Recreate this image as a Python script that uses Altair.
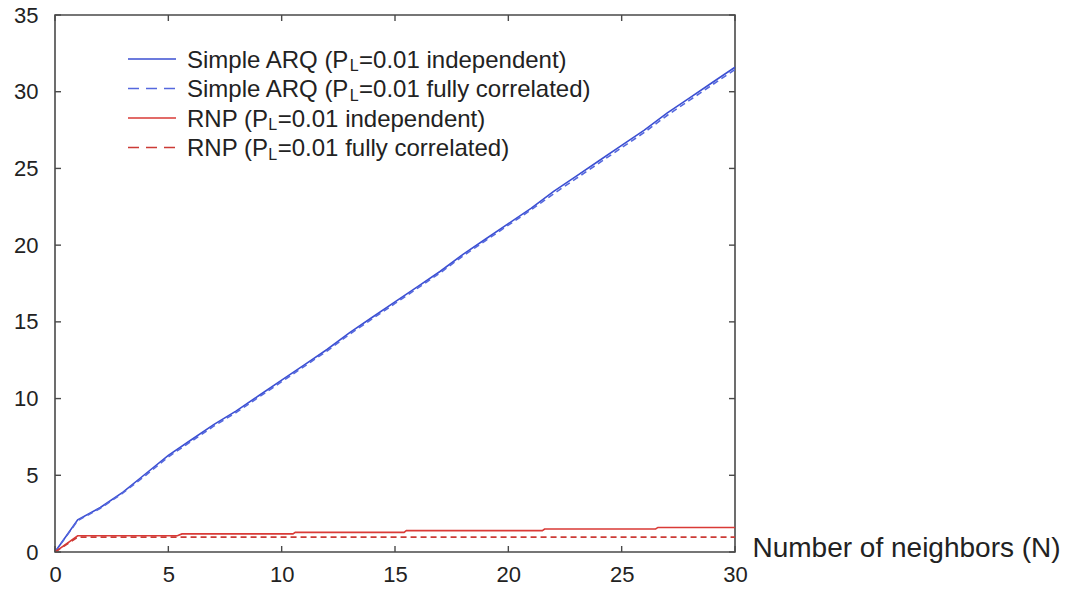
import altair as alt
import pandas as pd

# ---- data ----
N = list(range(0, 31))
arq_indep = [0, 2.1, 2.9, 3.9, 5.1, 6.3, 7.3, 8.3, 9.2, 10.2, 11.2, 12.2, 13.2, 14.3, 15.3,
             16.3, 17.3, 18.3, 19.4, 20.4, 21.4, 22.4, 23.5, 24.5, 25.5, 26.5, 27.5, 28.6,
             29.6, 30.6, 31.6]
arq_corr = [0, 2.05, 2.85, 3.85, 5.0, 6.2, 7.2, 8.2, 9.1, 10.1, 11.1, 12.1, 13.1, 14.2, 15.2,
            16.2, 17.2, 18.2, 19.3, 20.3, 21.3, 22.3, 23.35, 24.35, 25.35, 26.35, 27.35, 28.45,
            29.45, 30.45, 31.45]
rnp_indep_x = [0, 1, 5.4, 5.6, 10.5, 10.6, 15.4, 15.5, 21.5, 21.6, 26.5, 26.6, 30]
rnp_indep_y = [0, 1.06, 1.06, 1.18, 1.18, 1.28, 1.28, 1.39, 1.39, 1.5, 1.5, 1.6, 1.6]
rnp_corr_x = [0, 1, 30]
rnp_corr_y = [0, 0.97, 0.97]

x_ticks = [0, 5, 10, 15, 20, 25, 30]
y_ticks = [0, 5, 10, 15, 20, 25, 30, 35]

series_names = [
    "Simple ARQ (PL=0.01 independent)",
    "Simple ARQ (PL=0.01 fully correlated)",
    "RNP (PL=0.01 independent)",
    "RNP (PL=0.01 fully correlated)",
]
legend_prefix = ["Simple ARQ (P", "Simple ARQ (P", "RNP (P", "RNP (P"]
legend_sub = ["L", "L", "L", "L"]
legend_rest = ["=0.01 independent)", "=0.01 fully correlated)",
               "=0.01 independent)", "=0.01 fully correlated)"]
colors = ["#3b4fd2", "#5568de", "#d93a36", "#cc3b36"]
dashed = [False, True, False, True]

# ---- build frame ----
rows = []
for x, y in zip(N, arq_indep):
    rows.append({"s": series_names[0], "x": x, "y": y, "o": len(rows)})
for x, y in zip(N, arq_corr):
    rows.append({"s": series_names[1], "x": x, "y": y, "o": len(rows)})
for x, y in zip(rnp_indep_x, rnp_indep_y):
    rows.append({"s": series_names[2], "x": x, "y": y, "o": len(rows)})
for x, y in zip(rnp_corr_x, rnp_corr_y):
    rows.append({"s": series_names[3], "x": x, "y": y, "o": len(rows)})
df = pd.DataFrame(rows)

W, H = 680, 537
FONT = "Liberation Sans"
TXT = "#222222"
FRAME = "#4a4a4a"

xscale = alt.Scale(domain=[0, 30], nice=False, zero=False)
yscale = alt.Scale(domain=[0, 35], nice=False, zero=False)

xaxis = alt.Axis(values=x_ticks, grid=False, ticks=False, domain=False, labelFontSize=22,
                 labelFont=FONT, labelColor=TXT, labelPadding=12, labelFlush=False,
                 title="Number of neighbors (N)", titleFont=FONT, titleFontSize=28,
                 titleFontWeight="normal", titleColor=TXT, titleAnchor="start",
                 titleAlign="left", titleBaseline="middle", titleX=W + 17, titleY=-4,
                 format="d")
yaxis = alt.Axis(values=y_ticks, grid=False, ticks=False, domain=False, labelFontSize=22,
                 labelFont=FONT, labelColor=TXT, labelPadding=17, labelFlush=False,
                 labelOverlap=False, title=None, format="d")

X = alt.X("x:Q", scale=xscale, axis=xaxis, title="Number of neighbors (N)")
Y = alt.Y("y:Q", scale=yscale, axis=yaxis)

layers = []
for i, name in enumerate(series_names):
    mk = dict(color=colors[i], strokeWidth=1.6, clip=True)
    if dashed[i]:
        mk["strokeDash"] = [6, 4]
    layers.append(
        alt.Chart(df[df.s == name]).mark_line(**mk).encode(x=X, y=Y, order="o:Q")
    )

# inward, mirrored tick marks
xt = pd.DataFrame({"x": x_ticks})
yt = pd.DataFrame({"y": y_ticks})
tick_style = dict(color=FRAME, strokeWidth=1.4)
layers.append(alt.Chart(xt).mark_rule(**tick_style).encode(
    x=X, y=alt.value(H), y2=alt.value(H - 6)))
layers.append(alt.Chart(xt).mark_rule(**tick_style).encode(
    x=X, y=alt.value(0), y2=alt.value(6)))
layers.append(alt.Chart(yt).mark_rule(**tick_style).encode(
    y=Y, x=alt.value(0), x2=alt.value(6)))
layers.append(alt.Chart(yt).mark_rule(**tick_style).encode(
    y=Y, x=alt.value(W), x2=alt.value(W - 6)))

# manual legend (for the subscript L)
AW = {"S": 667, "i": 222, "m": 833, "p": 556, "l": 222, "e": 556, " ": 278, "A": 667,
      "R": 722, "Q": 778, "(": 333, "P": 667, "N": 722}

def width(s, size):
    return sum(AW.get(c, 556) for c in s) * size / 1000.0

one = pd.DataFrame({"a": [0]})
LF = 24
SF = 16
for i in range(4):
    yy = 44 + i * 29.5
    lm = dict(color=colors[i], strokeWidth=1.6)
    if dashed[i]:
        lm["strokeDash"] = [11, 7]
    layers.append(alt.Chart(one).mark_rule(**lm).encode(
        x=alt.value(73), x2=alt.value(121), y=alt.value(yy)))
    x0 = 132
    layers.append(alt.Chart(one).mark_text(
        text=legend_prefix[i], font=FONT, fontSize=LF, color=TXT, align="left",
        baseline="alphabetic").encode(x=alt.value(x0), y=alt.value(yy + 8.5)))
    xs = x0 + width(legend_prefix[i], LF)
    layers.append(alt.Chart(one).mark_text(
        text=legend_sub[i], font=FONT, fontSize=SF, color=TXT, align="left",
        baseline="alphabetic").encode(x=alt.value(xs), y=alt.value(yy + 12)))
    xr = xs + 0.556 * SF + 0.5
    layers.append(alt.Chart(one).mark_text(
        text=legend_rest[i], font=FONT, fontSize=LF, color=TXT, align="left",
        baseline="alphabetic").encode(x=alt.value(xr), y=alt.value(yy + 8.5)))

chart = alt.layer(*layers).properties(
    width=W, height=H,
    autosize=alt.AutoSizeParams(type="none"),
    padding={"left": 55, "top": 15, "right": 335, "bottom": 39},
    background="white",
).configure_view(stroke=FRAME, strokeWidth=1.6)

chart.save("out.html", embed_options={"renderer": "svg", "actions": False})
